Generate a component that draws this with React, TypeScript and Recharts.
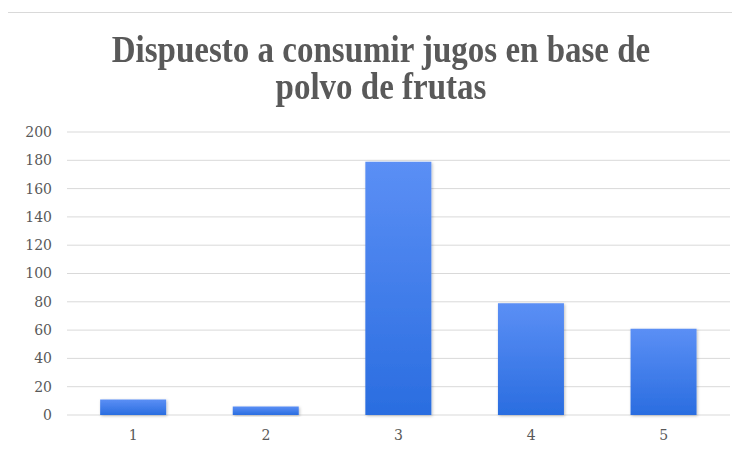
import { BarChart, Bar, XAxis, YAxis, CartesianGrid } from "recharts";

const categories = ["1", "2", "3", "4", "5"];
const counts = [11, 6, 179, 79, 61];
const yTicks = [0, 20, 40, 60, 80, 100, 120, 140, 160, 180, 200];
const titleLines = ["Dispuesto a consumir jugos en base de", "polvo de frutas"];

const data = categories.map((name, i) => ({ name, count: counts[i] }));

const titleFont = "'Liberation Serif', serif";
const tickFont = "'DejaVu Serif', serif";

// plain svg text so the serif face and size stick
const AxisTick = (props: any) => {
  const { x, y, payload, textAnchor, vertical } = props;
  return (
    <text
      x={x}
      y={y}
      dy={vertical ? "0.35em" : "0.71em"}
      textAnchor={textAnchor}
      fontFamily={tickFont}
      fontSize={14}
      fill="#595959"
    >
      {payload.value}
    </text>
  );
};

const App = () => {
  return (
    <div style={{ position: "relative", width: 740, height: 452, margin: "-8px 0 0 -8px", overflow: "hidden", background: "#fff" }}>
      {/* chart frame */}
      <div
        style={{
          position: "absolute",
          left: 7,
          top: 12,
          width: 760,
          height: 460,
          border: "1px solid #d9d9d9",
          boxSizing: "border-box",
        }}
      />
      {titleLines.map((line, i) => (
        <div
          key={line}
          style={{
            position: "absolute",
            left: 0,
            top: 35 + i * 37,
            width: 762,
            textAlign: "center",
            fontFamily: titleFont,
            fontWeight: "bold",
            fontSize: 33,
            lineHeight: "26px",
            color: "#595959",
            whiteSpace: "nowrap",
            transform: "scaleY(1.12)",
            transformOrigin: "top",
          }}
        >
          {line}
        </div>
      ))}
      <div style={{ position: "absolute", left: 0, top: 0 }}>
        <BarChart
          width={740}
          height={452}
          data={data}
          margin={{ top: 132, right: 10, left: 0, bottom: 7 }}
          barCategoryGap="25%"
        >
          <defs>
            <linearGradient id="barFill" x1="0" y1="0" x2="0" y2="1">
              <stop offset="0%" stopColor="#5b8ff5" />
              <stop offset="100%" stopColor="#2a6de0" />
            </linearGradient>
            <filter id="barShadow" x="-10%" y="-10%" width="130%" height="130%">
              <feDropShadow dx="1" dy="1" stdDeviation="1.5" floodColor="#000" floodOpacity="0.25" />
            </filter>
          </defs>
          <CartesianGrid vertical={false} stroke="#d9d9d9" />
          <XAxis
            dataKey="name"
            axisLine={false}
            tickLine={false}
            tickSize={0}
            tickMargin={15}
            height={30}
            tick={<AxisTick />}
          />
          <YAxis
            domain={[0, 200]}
            ticks={yTicks}
            axisLine={false}
            tickLine={false}
            tickSize={0}
            tickMargin={15}
            width={67}
            tick={<AxisTick vertical />}
            interval={0}
          />
          <Bar dataKey="count" fill="url(#barFill)" filter="url(#barShadow)" isAnimationActive={false} />
        </BarChart>
      </div>
    </div>
  );
};

export default App;
